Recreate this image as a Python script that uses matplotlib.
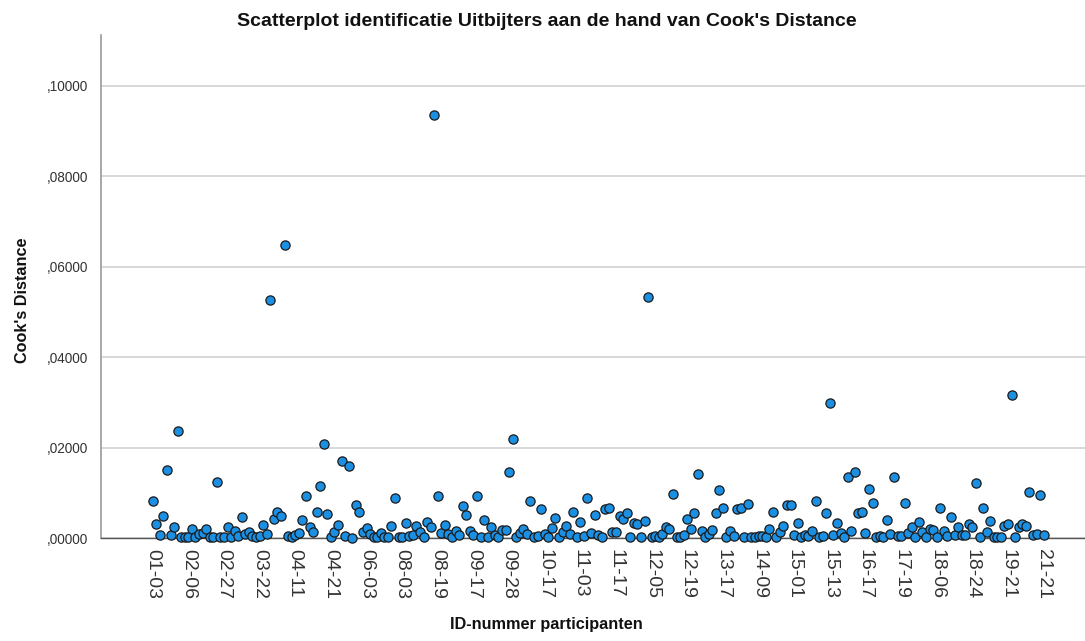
import matplotlib
matplotlib.use('Agg')
import numpy as np
import matplotlib.pyplot as plt
from matplotlib.transforms import ScaledTranslation

plt.rcParams['font.family'] = ['Liberation Sans', 'DejaVu Sans']

# Cook's distance per participant, read left to right off the chart
cooks_d = [
    .0082, .0031, .0007, .0049, .0151, .0007, .0025, .0237, .0003, .0002,
    .0003, .0021, .0004, .0009, .0012, .0020, .0004, .0004, .0125, .0002,
    .0002, .0026, .0004, .0016, .0005, .0046, .0010, .0015, .0005, .0004,
    .0005, .0029, .0010, .0526, .0043, .0059, .0049, .0647, .0005, .0004,
    .0007, .0012, .0040, .0093, .0026, .0014, .0059, .0115, .0208, .0054,
    .0004, .0014, .0030, .0171, .0005, .0160, .0001, .0074, .0058, .0015,
    .0022, .0010, .0004, .0002, .0011, .0004, .0004, .0027, .0088, .0002,
    .0004, .0033, .0005, .0007, .0027, .0015, .0004, .0035, .0026, .0935,
    .0094, .0011, .0030, .0010, .0004, .0017, .0007, .0071, .0051, .0017,
    .0007, .0093, .0004, .0040, .0004, .0026, .0007, .0004, .0018, .0018,
    .0146, .0219, .0004, .0012, .0021, .0010, .0083, .0004, .0005, .0064,
    .0010, .0003, .0022, .0044, .0004, .0014, .0028, .0009, .0058, .0004,
    .0035, .0005, .0088, .0011, .0051, .0007, .0003, .0065, .0068, .0015,
    .0015, .0050, .0043, .0057, .0004, .0033, .0032, .0004, .0039, .0534,
    .0004, .0005, .0003, .0010, .0026, .0020, .0097, .0004, .0003, .0007,
    .0043, .0021, .0055, .0141, .0017, .0004, .0010, .0018, .0057, .0107,
    .0068, .0003, .0017, .0005, .0064, .0068, .0003, .0075, .0004, .0004,
    .0005, .0005, .0004, .0021, .0059, .0003, .0014, .0028, .0073, .0073,
    .0007, .0033, .0004, .0007, .0005, .0017, .0082, .0003, .0005, .0055,
    .0298, .0007, .0033, .0012, .0004, .0135, .0017, .0147, .0057, .0058,
    .0012, .0108, .0077, .0004, .0005, .0004, .0040, .0010, .0135, .0005,
    .0005, .0077, .0012, .0026, .0004, .0037, .0014, .0004, .0020, .0019,
    .0004, .0068, .0017, .0005, .0047, .0007, .0026, .0007, .0007, .0032,
    .0026, .0123, .0003, .0066, .0014, .0038, .0004, .0004, .0004, .0028,
    .0032, .0317, .0003, .0024, .0032, .0028, .0103, .0007, .0010, .0095,
    .0007,
]

# only every 10th participant ID is labelled on the axis
id_labels = ['01-03', '02-06', '02-27', '03-22', '04-11', '04-21', '06-03',
             '08-03', '08-19', '09-17', '09-28', '10-17', '11-03', '11-17',
             '12-05', '12-19', '13-17', '14-09', '15-01', '15-13', '16-17',
             '17-19', '18-06', '18-24', '19-21', '21-21']
label_step = 10

y_ticks = [0, .02, .04, .06, .08, .10]
y_ticklabels = [',00000', ',02000', ',04000', ',06000', ',08000', ',10000']

fig = plt.figure(figsize=(10.85, 6.41), dpi=100)
ax = fig.add_axes([0.0931, 0.1602, 0.9069, 0.7852])

pos = np.arange(len(cooks_d))
ax.scatter(pos, cooks_d, s=44, color='#1b8fe2', edgecolors='#1a1a1a',
           linewidths=0.9, zorder=3, clip_on=False)

ax.set_xlim(-14.5, 261.6)
ax.set_ylim(0, 0.1112)

ax.set_xticks(pos[::label_step][:len(id_labels)])
ax.set_xticklabels(id_labels, rotation=270, fontsize=14, color='#333333')
shift = ScaledTranslation(-0.05, 0, fig.dpi_scale_trans)
for lbl in ax.get_xticklabels():
    lbl.set_transform(lbl.get_transform() + shift)

ax.set_yticks(y_ticks)
ax.set_yticklabels(y_ticklabels, fontsize=9.8, color='#333333')
ax.tick_params(axis='both', length=0)
ax.tick_params(axis='x', pad=8)
ax.tick_params(axis='y', pad=9)

ax.yaxis.grid(True, color='#d6d6d6', linewidth=1.3)
ax.set_axisbelow(True)
for side in ['top', 'right']:
    ax.spines[side].set_visible(False)
ax.spines['left'].set_color('#9a9a9a')
ax.spines['left'].set_linewidth(1.2)
ax.spines['bottom'].set_color('#555555')
ax.spines['bottom'].set_linewidth(1.0)

fig.text(0.504, 0.967, "Scatterplot identificatie Uitbijters aan de hand van Cook's Distance",
         ha='center', va='center', fontsize=14, fontweight='bold', color='#111111')
fig.text(0.021, 0.532, "Cook's Distance", rotation=90, ha='center', va='center',
         fontsize=11.7, fontweight='bold', color='#111111')
fig.text(0.504, 0.025, 'ID-nummer participanten', ha='center', va='center',
         fontsize=11.7, fontweight='bold', color='#111111')

fig.savefig('out.png', dpi=100)
